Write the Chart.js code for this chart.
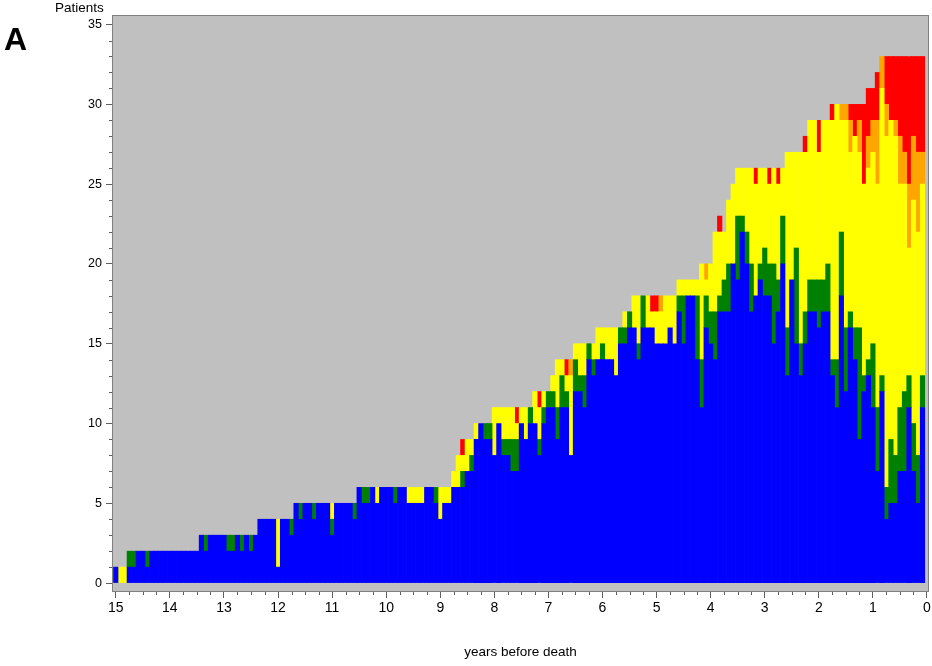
<!DOCTYPE html>
<html><head><meta charset="utf-8">
<script src="https://cdn.jsdelivr.net/npm/chart.js@4"></script>
<style>
html,body{margin:0;padding:0;background:#fff;}
#wrap{position:relative;width:932px;height:666px;overflow:hidden;}
canvas{position:absolute;left:0;top:0;}
#lblA{position:absolute;left:4px;top:23px;font:bold 32px 'Liberation Sans',Arial,sans-serif;line-height:32px;color:#000;}
#lblP{position:absolute;left:55px;top:0px;font:13.5px 'Liberation Sans',Arial,sans-serif;line-height:16px;color:#000;}
</style></head><body>
<div id="wrap"><canvas id="c" width="932" height="666"></canvas><div id="lblA">A</div><div id="lblP">Patients</div></div>
<script>
// 180 monthly bars, from 15 years (180 months) before death to 1 month before death
const blue = [
1,0,0,1,1,2,2,1,2,2,
2,2,2,2,2,2,2,2,2,3,
2,3,3,3,3,2,2,3,2,3,
2,3,4,4,4,4,1,4,4,3,
5,4,5,5,4,5,5,5,3,5,
5,5,5,4,6,5,5,6,5,6,
6,6,5,6,6,5,5,5,5,6,
6,5,4,5,5,6,6,6,7,7,
9,10,9,9,8,10,8,8,7,7,
10,9,10,10,8,10,11,11,9,11,
11,8,12,12,11,14,13,14,14,14,
14,13,15,15,16,16,14,16,16,16,
15,15,15,16,15,17,15,18,18,14,
11,16,15,14,17,17,17,20,19,22,
20,17,18,19,18,18,15,17,20,13,
19,15,13,15,17,17,16,17,17,13,
11,18,12,16,14,9,12,13,11,7,
12,4,5,5,7,7,11,7,5,11];
const green = [
0,0,0,1,1,0,0,1,0,0,
0,0,0,0,0,0,0,0,0,0,
1,0,0,0,0,1,1,0,1,0,
1,0,0,0,0,0,0,0,0,1,
0,1,0,0,1,0,0,0,1,0,
0,0,0,1,0,1,1,0,0,0,
0,0,1,0,0,0,0,0,0,0,
0,1,0,0,0,0,0,1,0,1,
0,0,1,1,0,0,1,1,2,2,
0,0,1,0,1,1,1,1,2,2,
1,0,2,1,2,1,1,0,1,0,
0,0,1,1,1,0,1,2,0,0,
0,0,0,0,0,1,3,0,0,4,
3,2,2,3,1,2,3,0,4,1,
2,3,0,1,3,2,5,2,3,3,
0,6,2,2,2,2,3,2,3,1,
3,4,4,1,2,7,1,1,4,4,
1,2,4,3,4,5,2,3,3,2];
const yellow = [
0,1,1,0,0,0,0,0,0,0,
0,0,0,0,0,0,0,0,0,0,
0,0,0,0,0,0,0,0,0,0,
0,0,0,0,0,0,3,0,0,0,
0,0,0,0,0,0,0,0,1,0,
0,0,0,0,0,0,0,0,1,0,
0,0,0,0,0,1,1,1,1,0,
0,0,2,1,1,1,2,1,2,1,
1,0,0,0,3,1,2,2,2,1,
1,2,0,2,2,1,0,1,3,1,
1,5,1,2,2,0,1,2,1,2,
2,3,0,1,0,2,3,0,2,1,
2,2,3,2,3,1,1,1,1,1,
6,1,3,5,4,3,4,5,3,3,
4,6,7,6,5,5,6,6,3,11,
8,6,12,10,10,10,8,10,9,15,
16,7,13,10,12,11,12,12,12,14,
18,22,20,20,14,13,8,14,14,12];
const orange = [
0,0,0,0,0,0,0,0,0,0,
0,0,0,0,0,0,0,0,0,0,
0,0,0,0,0,0,0,0,0,0,
0,0,0,0,0,0,0,0,0,0,
0,0,0,0,0,0,0,0,0,0,
0,0,0,0,0,0,0,0,0,0,
0,0,0,0,0,0,0,0,0,0,
0,0,0,0,0,0,0,0,0,0,
0,0,0,0,0,0,0,0,0,0,
0,0,0,0,0,0,0,0,0,0,
0,1,0,0,0,0,0,0,0,0,
0,0,0,0,0,0,0,0,0,0,
0,1,0,0,0,0,0,0,0,0,
0,1,0,0,0,0,0,0,0,0,
0,0,0,0,0,0,0,0,0,0,
0,0,0,0,0,0,0,0,0,0,
0,1,1,2,0,2,0,2,2,4,
2,2,0,1,3,2,4,4,5,2];
const red = [
0,0,0,0,0,0,0,0,0,0,
0,0,0,0,0,0,0,0,0,0,
0,0,0,0,0,0,0,0,0,0,
0,0,0,0,0,0,0,0,0,0,
0,0,0,0,0,0,0,0,0,0,
0,0,0,0,0,0,0,0,0,0,
0,0,0,0,0,0,0,0,0,0,
0,0,0,0,0,0,0,1,0,0,
0,0,0,0,0,0,0,0,0,1,
0,0,0,0,1,0,0,0,0,0,
1,0,0,0,0,0,0,0,0,0,
0,0,0,0,0,0,0,0,0,1,
1,0,0,0,0,0,0,0,0,0,
0,0,0,0,1,0,0,0,0,0,
0,0,1,0,0,1,0,1,0,0,
0,0,0,1,0,0,2,0,0,1,
0,0,0,1,2,1,5,3,2,3,
0,3,4,4,5,6,8,5,6,6];
const xTickLabels = [15,14,13,12,11,10,9,8,7,6,5,4,3,2,1,0];
const yTickLabels = [0,5,10,15,20,25,30,35];

const series = [
  {name:'blue', values: blue, color:'#0000FF'},
  {name:'green', values: green, color:'#008000'},
  {name:'yellow', values: yellow, color:'#FFFF00'},
  {name:'orange', values: orange, color:'#FFA500'},
  {name:'red', values: red, color:'#FF0000'}
];
const nBars = blue.length;
function yearOf(i){ return (nBars - i) / 12; }

const datasets = series.map(s => ({
  label: s.name,
  data: s.values.map((v,i) => ({x: yearOf(i), y: v})).filter(p => p.y > 0),
  backgroundColor: s.color,
  borderWidth: 0,
  barPercentage: 1,
  categoryPercentage: 1
}));

const frame = {
  id: 'frame',
  beforeDraw(chart){
    const {ctx, chartArea:a} = chart;
    ctx.save(); ctx.fillStyle = '#C0C0C0';
    ctx.fillRect(a.left, a.top, a.right-a.left, a.bottom-a.top);
    ctx.restore();
  },
  afterDraw(chart){
    const {ctx, chartArea:a, scales} = chart;
    ctx.save();
    ctx.strokeStyle = '#808080'; ctx.lineWidth = 1;
    ctx.strokeRect(a.left+0.5, a.top+0.5, a.right-a.left-1, a.bottom-a.top-1);
    ctx.strokeStyle = '#606060';
    ctx.beginPath();
    for (let v = 0; v <= 35; v++) {
      if (v % 5 === 0) continue;
      const y = Math.round(scales.y.getPixelForValue(v)) + 0.5;
      ctx.moveTo(a.left-3, y); ctx.lineTo(a.left, y);
    }
    for (let q = 0; q <= 60; q++) {
      if (q % 4 === 0) continue;
      const x = Math.round(scales.x.getPixelForValue(q/4)) + 0.5;
      ctx.moveTo(x, a.bottom); ctx.lineTo(x, a.bottom+3);
    }
    ctx.stroke();
    ctx.restore();
  }
};

new Chart(document.getElementById('c'), {
  type: 'bar',
  data: { datasets },
  options: {
    responsive: false,
    animation: false,
    layout: { padding: { left: 0, top: 15, right: 3, bottom: 0 } },
    plugins: { legend: { display: false }, tooltip: { enabled: false } },
    scales: {
      x: {
        type: 'linear', reverse: true, min: -0.037, max: 15.07, offset: false, stacked: true,
        afterBuildTicks(s){ s.ticks = xTickLabels.map(v => ({value: v})); },
        afterFit(s){ s.height = 74; s.paddingLeft = 0; s.paddingRight = 0; },
        grid: { display: true, drawOnChartArea: false, drawTicks: true, tickLength: 6, color: '#606060', offset: false },
        border: { display: false },
        ticks: { autoSkip: false, maxRotation: 0, padding: 2, color: '#000',
                 font: { family: "'Liberation Sans Narrow','Liberation Sans',Arial", size: 14 },
                 callback: v => String(v) },
        title: { display: true, text: 'years before death', color: '#000',
                 font: { family: "'Liberation Sans',Arial", size: 13.5 }, padding: { top: 0, bottom: 6 } }
      },
      y: {
        type: 'linear', min: -0.56, max: 35.6, stacked: true,
        afterBuildTicks(s){ s.ticks = yTickLabels.map(v => ({value: v})); },
        afterFit(s){ s.width = 112; s.paddingTop = 0; s.paddingBottom = 0; },
        grid: { display: true, drawOnChartArea: false, drawTicks: true, tickLength: 6, color: '#606060' },
        border: { display: false },
        ticks: { padding: 4, color: '#000', font: { family: "'Liberation Sans',Arial", size: 12.5 } }
      }
    }
  },
  plugins: [frame]
});
</script>
</body></html>
